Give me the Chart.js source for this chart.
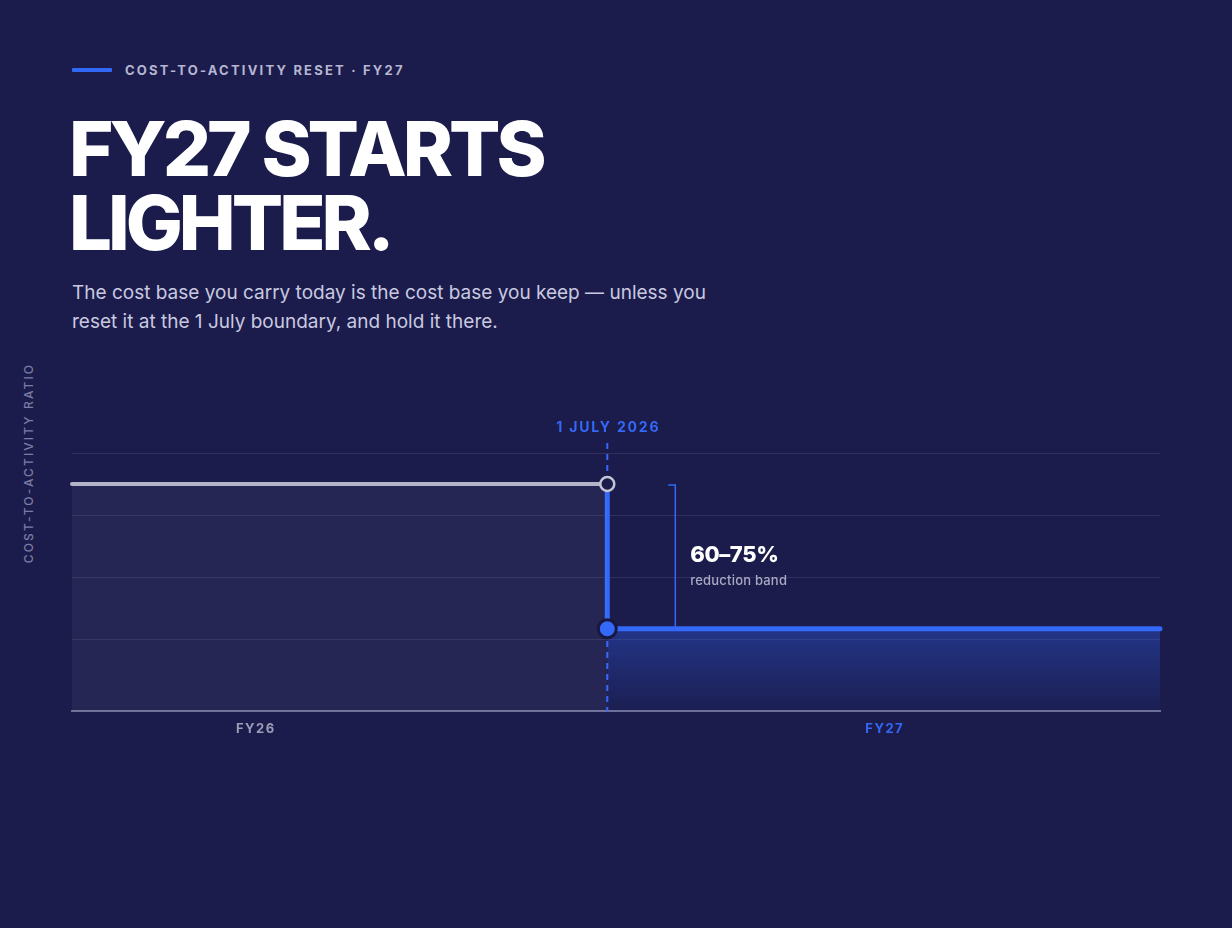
<!DOCTYPE html>
<html>
<head>
<meta charset="utf-8">
<script src="https://cdn.jsdelivr.net/npm/chart.js@4.4.1/dist/chart.umd.min.js"></script>
<style>
  html, body { margin: 0; padding: 0; }
  body { width: 1232px; height: 928px; background: #1b1c4b; position: relative; overflow: hidden; font-family: Inter, "Noto Sans", sans-serif; }
  .eyebrow { position: absolute; left: 72px; top: 61px; height: 18px; display: flex; align-items: center; }
  .eyebrow .bar { width: 40px; height: 4px; background: #3268f6; border-radius: 1px; margin-right: 13px; }
  .eyebrow .txt { font-size: 13px; font-weight: 700; letter-spacing: 2.2px; color: #b6b6d2; }
  h1 { position: absolute; left: 69px; top: 111px; margin: 0; font-size: 76px; line-height: 74px; font-weight: 800; letter-spacing: -4px; word-spacing: 1px; color: #ffffff; }
  .sub { position: absolute; left: 72px; top: 278px; width: 660px; margin: 0; font-size: 19px; line-height: 29px; color: #c9c9e0; font-weight: 400; }
  .ytitle { position: absolute; left: 28px; top: 463px; transform: translate(-50%, -50%) rotate(-90deg); white-space: nowrap; font-size: 12px; font-weight: 500; letter-spacing: 2.1px; color: #7c7ca6; }
  .chartbox { position: absolute; left: 0; top: 380px; width: 1232px; height: 400px; }
</style>
</head>
<body>
<div class="eyebrow"><div class="bar"></div><div class="txt">COST-TO-ACTIVITY RESET · FY27</div></div>
<h1>FY27 STARTS<br>LIGHTER.</h1>
<p class="sub">The cost base you carry today is the cost base you keep — unless you reset it at the 1 July boundary, and hold it there.</p>
<div class="ytitle">COST-TO-ACTIVITY RATIO</div>
<div class="chartbox"><canvas id="c" width="1232" height="400"></canvas></div>
<script>
// ---- data ----
const periods = ['FY26', 'FY27'];
const periodLabelPos = [16.9, 74.7];      // where each period label sits on the x scale
const periodStart = 0;                    // start of FY26
const boundaryX = 49.2;                   // 1 July 2026
const periodEnd = 100;                    // end of FY27 view
const fy26Ratio = 88;                     // cost-to-activity index, FY26
const fy27Ratio = 32;                     // cost-to-activity index, FY27
const gridValues = [28, 52, 76, 100];
const boundaryLabel = '1 JULY 2026';
const bandLabel = '60–75%';
const bandSub = 'reduction band';

// ---- styles ----
const BG = '#1b1c4b';
const BLUE = '#3368f8';
const GREY = '#b4b4c8';
const FONT = 'Inter, "Noto Sans", sans-serif';

const fy26Line = [{x: periodStart, y: fy26Ratio}, {x: boundaryX, y: fy26Ratio}];
const dropLine = [{x: boundaryX, y: fy26Ratio}, {x: boundaryX, y: fy27Ratio}];
const fy27Line = [{x: boundaryX, y: fy27Ratio}, {x: periodEnd, y: fy27Ratio}];

function fy27Gradient(ctx) {
  const chart = ctx.chart;
  const {chartArea, scales} = chart;
  if (!chartArea) return 'rgba(51,102,255,0.2)';
  const top = scales.y.getPixelForValue(fy27Ratio);
  const bottom = scales.y.getPixelForValue(0);
  const g = chart.ctx.createLinearGradient(0, top, 0, bottom);
  g.addColorStop(0, 'rgba(51,102,255,0.34)');
  g.addColorStop(1, 'rgba(51,102,255,0.04)');
  return g;
}

const spacingPlugin = {
  id: 'spacing',
  beforeDraw(chart) { chart.ctx.letterSpacing = '1.5px'; }
};

const annotations = {
  id: 'annotations',
  beforeDatasetsDraw(chart) {
    const {ctx, chartArea, scales} = chart;
    const x = scales.x.getPixelForValue(boundaryX);
    ctx.save();
    ctx.strokeStyle = BLUE;
    ctx.lineWidth = 2;
    ctx.setLineDash([6, 5]);
    ctx.beginPath();
    ctx.moveTo(x, chartArea.top - 10);
    ctx.lineTo(x, chartArea.bottom);
    ctx.stroke();
    ctx.restore();
  },
  afterDraw(chart) {
    const {ctx, chartArea, scales} = chart;
    const x = scales.x.getPixelForValue(boundaryX);
    const yHigh = scales.y.getPixelForValue(fy26Ratio);
    const yLow = scales.y.getPixelForValue(fy27Ratio);
    ctx.save();
    // boundary label
    ctx.letterSpacing = '1.8px';
    ctx.fillStyle = BLUE;
    ctx.font = '700 14px ' + FONT;
    ctx.textAlign = 'center';
    ctx.textBaseline = 'middle';
    ctx.fillText(boundaryLabel, x + 1, chartArea.top - 25);
    // bracket
    const bx = x + 68;
    ctx.strokeStyle = BLUE;
    ctx.lineWidth = 1.5;
    ctx.beginPath();
    ctx.moveTo(bx - 7, yHigh + 1);
    ctx.lineTo(bx, yHigh + 1);
    ctx.lineTo(bx, yLow);
    ctx.stroke();
    // band text
    ctx.letterSpacing = '-0.4px';
    ctx.textAlign = 'left';
    ctx.textBaseline = 'alphabetic';
    ctx.fillStyle = '#ffffff';
    ctx.font = '800 22px ' + FONT;
    ctx.fillText(bandLabel, bx + 15, yHigh + 78);
    ctx.letterSpacing = '0.2px';
    ctx.fillStyle = '#a9a9c4';
    ctx.font = '500 13px ' + FONT;
    ctx.fillText(bandSub, bx + 15, yHigh + 101);
    ctx.restore();
  }
};

new Chart(document.getElementById('c'), {
  type: 'line',
  data: {
    datasets: [
      {
        data: fy27Line,
        borderColor: BLUE,
        borderWidth: 5,
        borderCapStyle: 'round',
        fill: 'origin',
        backgroundColor: fy27Gradient,
        pointRadius: [9, 0],
        pointBackgroundColor: BLUE,
        pointBorderColor: '#17173f',
        pointBorderWidth: 3,
        clip: false
      },
      {
        data: fy26Line,
        borderColor: GREY,
        borderWidth: 4,
        borderCapStyle: 'round',
        fill: 'origin',
        backgroundColor: 'rgba(200,200,232,0.06)',
        pointRadius: [0, 7],
        pointBackgroundColor: BG,
        pointBorderColor: '#c4c4d4',
        pointBorderWidth: 2.5,
        clip: false
      },
      {
        data: dropLine,
        borderColor: BLUE,
        borderWidth: 5,
        fill: false,
        pointRadius: 0,
        clip: false
      }
    ]
  },
  options: {
    responsive: false,
    animation: false,
    events: [],
    layout: { padding: { left: 72, right: 72, top: 73, bottom: 33 } },
    plugins: { legend: { display: false }, tooltip: { enabled: false } },
    scales: {
      x: {
        type: 'linear',
        min: periodStart,
        max: periodEnd,
        afterBuildTicks(scale) { scale.ticks = periodLabelPos.map(v => ({value: v})); },
        grid: { display: false, drawTicks: false },
        border: { display: true, color: '#6f6f98', width: 2 },
        ticks: {
          autoSkip: false,
          maxRotation: 0,
          padding: 10,
          font: { family: FONT, size: 13, weight: '700' },
          color: (c) => c.index === 0 ? '#9c9cb8' : BLUE,
          callback: (v, i) => periods[i]
        }
      },
      y: {
        min: 0,
        max: 100,
        afterBuildTicks(scale) { scale.ticks = gridValues.map(v => ({value: v})); },
        grid: { color: 'rgba(255,255,255,0.09)', lineWidth: 1, drawTicks: false },
        border: { display: false },
        ticks: { display: false }
      }
    }
  },
  plugins: [spacingPlugin, annotations]
});
</script>
</body>
</html>
